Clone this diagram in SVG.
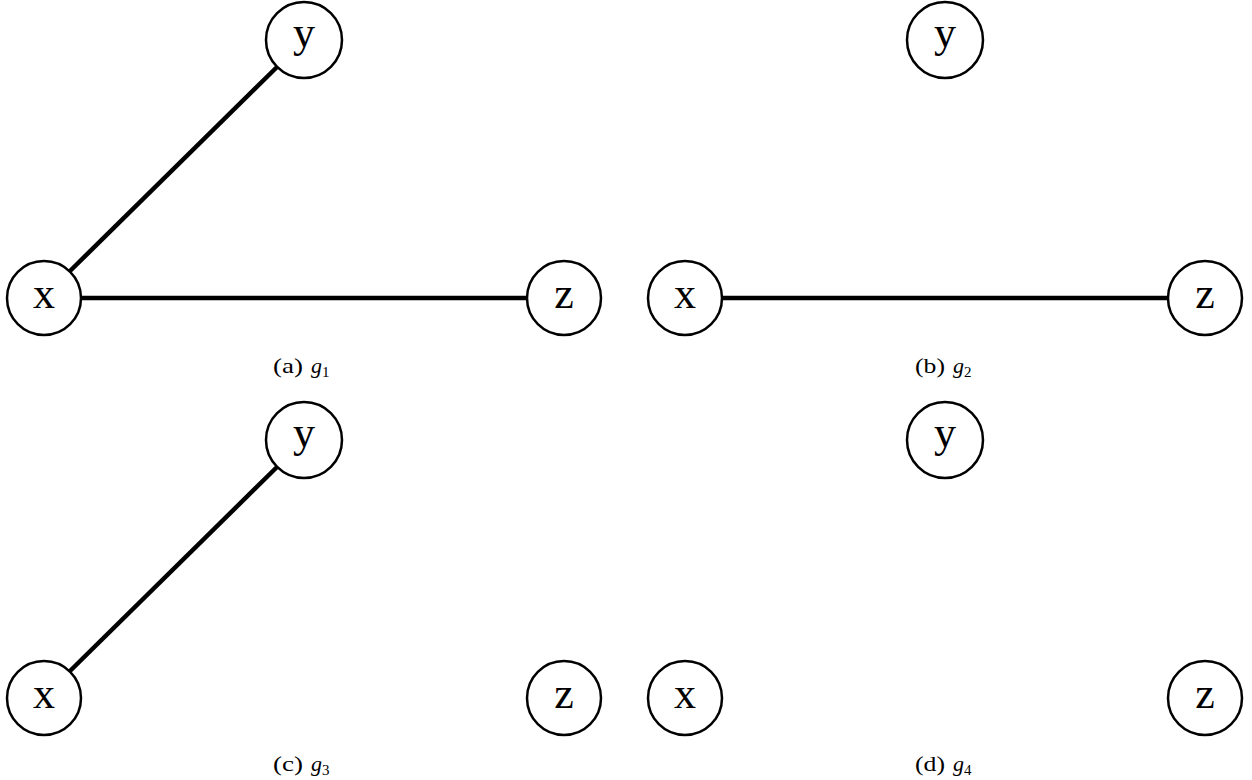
<svg xmlns="http://www.w3.org/2000/svg" width="1252" height="780" viewBox="0 0 1252 780">
<style>
.n{fill:#fff;stroke:#000;stroke-width:2.5}
.t{font-family:"Liberation Serif","DejaVu Serif",serif;font-size:44px;text-anchor:middle;fill:#000}
.c{font-family:"Liberation Serif","DejaVu Serif",serif;font-size:22px;fill:#000}
.g{font-style:italic}
.s{font-size:15px}
.e{stroke:#000;stroke-width:4.5;stroke-linecap:butt}
</style>
<rect width="1252" height="780" fill="#fff"/>
<g id="connectors">
<line class="e" x1="70" y1="271" x2="277" y2="67"/>
<line class="e" x1="81" y1="298" x2="527" y2="298"/>
<line class="e" x1="722" y1="298" x2="1168" y2="298"/>
<line class="e" x1="70" y1="671" x2="277" y2="467"/>
</g>
<g id="a-x"><circle class="n" cx="44" cy="298" r="37"/><text class="t" x="44" y="308">x</text></g>
<g id="a-y"><circle class="n" cx="304" cy="40" r="38"/><text class="t" x="304" y="47">y</text></g>
<g id="a-z"><circle class="n" cx="564" cy="298" r="37"/><text class="t" x="564" y="308">z</text></g>
<g id="b-x"><circle class="n" cx="685" cy="298" r="37"/><text class="t" x="685" y="308">x</text></g>
<g id="b-y"><circle class="n" cx="945" cy="40" r="38"/><text class="t" x="945" y="47">y</text></g>
<g id="b-z"><circle class="n" cx="1205" cy="298" r="37"/><text class="t" x="1205" y="308">z</text></g>
<g id="c-x"><circle class="n" cx="44" cy="698" r="37"/><text class="t" x="44" y="708">x</text></g>
<g id="c-y"><circle class="n" cx="304" cy="440" r="38"/><text class="t" x="304" y="447">y</text></g>
<g id="c-z"><circle class="n" cx="564" cy="698" r="37"/><text class="t" x="564" y="708">z</text></g>
<g id="d-x"><circle class="n" cx="685" cy="698" r="37"/><text class="t" x="685" y="708">x</text></g>
<g id="d-y"><circle class="n" cx="945" cy="440" r="38"/><text class="t" x="945" y="447">y</text></g>
<g id="d-z"><circle class="n" cx="1205" cy="698" r="37"/><text class="t" x="1205" y="708">z</text></g>
<g id="captions">
<text class="c" x="273" y="373" textLength="30" lengthAdjust="spacingAndGlyphs">(a)</text><text class="c g" x="311" y="373">g</text><text class="c s" x="322" y="377">1</text>
<text class="c" x="915" y="373" textLength="30" lengthAdjust="spacingAndGlyphs">(b)</text><text class="c g" x="953" y="373">g</text><text class="c s" x="964" y="377">2</text>
<text class="c" x="273" y="771" textLength="30" lengthAdjust="spacingAndGlyphs">(c)</text><text class="c g" x="311" y="771">g</text><text class="c s" x="322" y="775">3</text>
<text class="c" x="915" y="771" textLength="30" lengthAdjust="spacingAndGlyphs">(d)</text><text class="c g" x="953" y="771">g</text><text class="c s" x="964" y="775">4</text>
</g>
</svg>
